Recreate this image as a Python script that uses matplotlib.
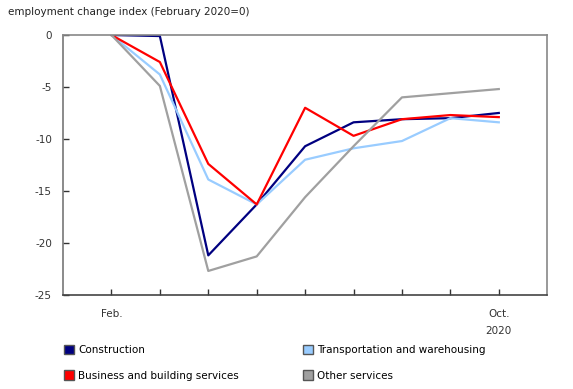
import matplotlib
matplotlib.use("Agg")
import matplotlib.pyplot as plt
from matplotlib.patches import Patch

plt.rcParams["axes.unicode_minus"] = False

months = ["Feb.", "", "", "", "", "", "", "", "Oct.\n2020"]
construction = [0, -0.1, -21.2, -16.3, -10.7, -8.4, -8.1, -8.0, -7.5]
transportation = [0, -3.8, -13.9, -16.3, -12.0, -10.9, -10.2, -8.0, -8.4]
business = [0, -2.6, -12.4, -16.3, -7.0, -9.7, -8.1, -7.7, -7.9]
other = [0, -4.9, -22.7, -21.3, -15.6, -10.7, -6.0, -5.6, -5.2]

series = [
    ("Construction", construction, "#000080"),
    ("Transportation and warehousing", transportation, "#99ccff"),
    ("Business and building services", business, "#ff0000"),
    ("Other services", other, "#a0a0a0"),
]

fig = plt.figure(figsize=(5.73, 3.89), dpi=100)
ax = fig.add_axes([0.110, 0.242, 0.845, 0.668])

x = list(range(len(months)))
for name, vals, col in series:
    ax.plot(x, vals, color=col, linewidth=1.6, label=name)

ax.set_xlim(-1, 9)
ax.set_ylim(-25, 0)
ax.set_yticks([0, -5, -10, -15, -20, -25])
ax.set_xticks(x)
ax.set_xticklabels(months)
ax.tick_params(axis="both", labelsize=7.5, colors="#333333", length=4, width=1,
               direction="in")
ax.tick_params(axis="x", pad=10)
ax.tick_params(axis="y", pad=8)
for side in ["top", "right"]:
    ax.spines[side].set_color("#888888")
ax.spines["left"].set_color("#777777")
ax.spines["bottom"].set_color("#444444")
for sp in ax.spines.values():
    sp.set_linewidth(1.2)
for lbl in ax.get_xticklabels():
    lbl.set_linespacing(1.9)

fig.text(0.014, 0.982, "employment change index (February 2020=0)", fontsize=7.5,
         color="#222222", va="top", ha="left")

# legend order: row-wise Construction, Transportation / Business, Other
order = [series[0], series[2], series[1], series[3]]
handles = [Patch(facecolor=c, edgecolor="#555555", label=n) for n, _, c in order]
fig.legend(handles=handles, loc="upper left", bbox_to_anchor=(0.095, 0.137),
           ncol=2, frameon=False, fontsize=7.5, handlelength=1.0, handleheight=1.0,
           handletextpad=0.4, columnspacing=6.1, labelspacing=1.45)

fig.savefig("out.png", dpi=100)
